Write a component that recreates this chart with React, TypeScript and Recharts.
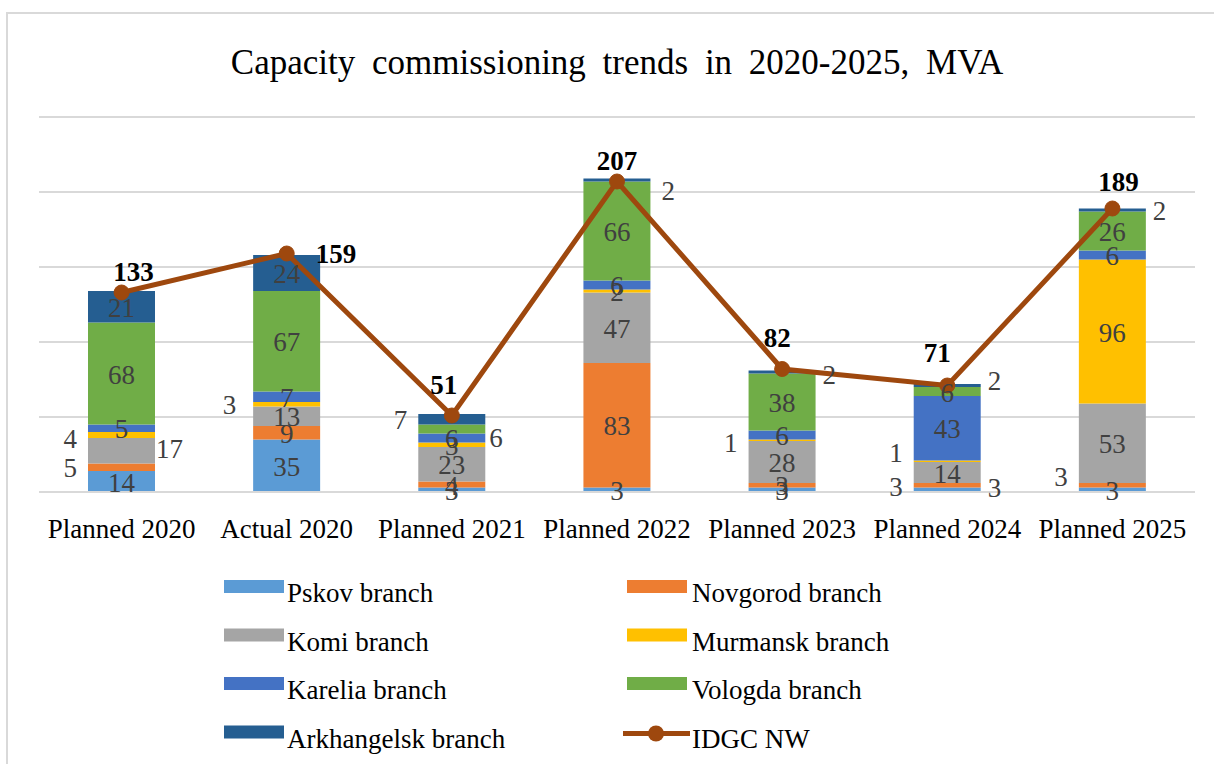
import React from "react"
import {
  Bar,
  CartesianGrid,
  ComposedChart,
  LabelList,
  Legend,
  Line,
  XAxis,
  YAxis,
} from "recharts"

const categories = [
  "Planned 2020",
  "Actual 2020",
  "Planned 2021",
  "Planned 2022",
  "Planned 2023",
  "Planned 2024",
  "Planned 2025",
]

const pskov = [14, 35, 3, 3, 3, 3, 3]
const novgorod = [5, 9, 4, 83, 3, 3, 3]
const komi = [17, 13, 23, 47, 28, 14, 53]
const murmansk = [4, 3, 3, 2, 1, 1, 96]
const karelia = [5, 7, 6, 6, 6, 43, 6]
const vologda = [68, 67, 6, 66, 38, 6, 26]
const arkhangelsk = [21, 24, 7, 2, 2, 2, 2]
const idgcNw = [133, 159, 51, 207, 82, 71, 189]

const yTicks = [0, 50, 100, 150, 200, 250]

const FONT = "'Liberation Serif', 'Times New Roman', serif"
const LINE_COLOR = "#9e480e"

const series = [
  { key: "pskov", name: "Pskov branch", color: "#5b9bd5", values: pskov },
  { key: "novgorod", name: "Novgorod branch", color: "#ed7d31", values: novgorod },
  { key: "komi", name: "Komi branch", color: "#a5a5a5", values: komi },
  { key: "murmansk", name: "Murmansk branch", color: "#ffc000", values: murmansk },
  { key: "karelia", name: "Karelia branch", color: "#4472c4", values: karelia },
  { key: "vologda", name: "Vologda branch", color: "#70ad47", values: vologda },
  { key: "arkhangelsk", name: "Arkhangelsk  branch", color: "#255e91", values: arkhangelsk },
]

const data = categories.map((name, i) => {
  const row: Record<string, string | number> = { name, idgc: idgcNw[i] }
  series.forEach((s) => {
    row[s.key] = s.values[i]
  })
  return row
})

// labels that were dragged out of the thin segments
type Place = { side: "L" | "R"; dx?: number; dy?: number }
const outside: Record<string, Record<number, Place>> = {
  pskov: { 5: { side: "L", dy: -4 } },
  novgorod: { 0: { side: "L" }, 5: { side: "R", dy: 2 }, 6: { side: "L", dy: -9 } },
  komi: { 0: { side: "R", dx: -6, dy: -3 } },
  murmansk: { 0: { side: "L", dy: 3 }, 1: { side: "L", dx: -6 }, 4: { side: "L", dy: 2 }, 5: { side: "L", dy: -9 } },
  vologda: { 2: { side: "R", dx: -3, dy: 8 } },
  arkhangelsk: {
    2: { side: "L" },
    3: { side: "R", dx: 4, dy: 10 },
    4: { side: "R", dy: 2 },
    5: { side: "R", dy: -6 },
    6: { side: "R" },
  },
}

// total labels above the line points
const totalPos = [
  { dx: 12, dy: -12, anchor: "middle" },
  { dx: 29, dy: 9, anchor: "start" },
  { dx: -8, dy: -22, anchor: "middle" },
  { dx: 0, dy: -12, anchor: "middle" },
  { dx: -5, dy: -22, anchor: "middle" },
  { dx: -10, dy: -24, anchor: "middle" },
  { dx: 6, dy: -18, anchor: "middle" },
]

const segmentLabel = (key: string) => (p: any) => {
  const vb = p.viewBox && p.viewBox.width != null ? p.viewBox : p
  const x = Number(vb.x)
  const y = Number(vb.y)
  const w = Number(vb.width)
  const h = Number(vb.height)
  const place = outside[key]?.[p.index]
  const cy = y + h / 2 + 10
  if (place) {
    const tx = place.side === "L" ? x - 11 + (place.dx ?? 0) : x + w + 7 + (place.dx ?? 0)
    return (
      <text
        x={tx}
        y={cy + (place.dy ?? 0)}
        textAnchor={place.side === "L" ? "end" : "start"}
        fontFamily={FONT}
        fontSize={27}
        fill="#404040"
      >
        {p.value}
      </text>
    )
  }
  return (
    <text x={x + w / 2} y={cy} textAnchor="middle" fontFamily={FONT} fontSize={27} fill="#404040">
      {p.value}
    </text>
  )
}

const totalLabel = (p: any) => {
  const pos = totalPos[p.index]
  return (
    <text
      x={Number(p.x) + pos.dx}
      y={Number(p.y) + pos.dy}
      textAnchor={pos.anchor as any}
      fontFamily={FONT}
      fontSize={27}
      fontWeight="bold"
      fill="#000"
    >
      {p.value}
    </text>
  )
}

const XTick = (p: any) => (
  <text x={p.x} y={p.y} dy={46} textAnchor="middle" fontFamily={FONT} fontSize={27} fill="#000">
    {p.payload.value}
  </text>
)

const legendRows = [
  ["pskov", "novgorod"],
  ["komi", "murmansk"],
  ["karelia", "vologda"],
  ["arkhangelsk", "idgc"],
]

const LegendBox = () => (
  <svg width={1214} height={764} style={{ position: "absolute", left: 0, top: 0 }}>
    {legendRows.map((row, r) =>
      row.map((key, c) => {
        const top = 580 + r * 48.5
        const sx = c === 0 ? 224 : 627
        const tx = c === 0 ? 287 : 692
        const s = series.find((d) => d.key === key)
        return (
          <g key={key}>
            {s ? (
              <rect x={sx} y={top} width={60} height={13} fill={s.color} />
            ) : (
              <g>
                <line x1={623} x2={690} y1={top + 8} y2={top + 8} stroke={LINE_COLOR} strokeWidth={5} />
                <circle cx={656} cy={top + 8} r={8} fill={LINE_COLOR} />
              </g>
            )}
            <text x={tx} y={top + 22} fontFamily={FONT} fontSize={27} fill="#000">
              {s ? s.name : "IDGC NW"}
            </text>
          </g>
        )
      })
    )}
  </svg>
)

export default function App() {
  return (
    <div style={{ position: "absolute", left: 0, top: 0, width: 1214, height: 764, background: "#fff" }}>
      <svg width={1214} height={764} style={{ position: "absolute", left: 0, top: 0 }}>
        <rect x={7} y={13} width={1240} height={800} fill="none" stroke="#d9d9d9" strokeWidth={2} />
        <text x={617} y={74} textAnchor="middle" fontFamily={FONT} fontSize={35} wordSpacing={8} fill="#000">
          Capacity commissioning trends in 2020-2025, MVA
        </text>
      </svg>
      <div style={{ position: "absolute", left: 0, top: 0 }}>
        <ComposedChart
          width={1214}
          height={764}
          data={data}
          margin={{ top: 117, right: 19, bottom: 212, left: 39 }}
        >
          <CartesianGrid vertical={false} stroke="#d9d9d9" strokeWidth={2} />
          <XAxis
            dataKey="name"
            height={60}
            interval={0}
            tickLine={false}
            tickSize={0}
            tickMargin={0}
            axisLine={{ stroke: "#d9d9d9", strokeWidth: 2 }}
            tick={XTick}
          />
          <YAxis hide domain={[0, 250]} ticks={yTicks} />
          {series.map((s) => (
            <Bar
              key={s.key}
              dataKey={s.key}
              name={s.name}
              stackId="a"
              fill={s.color}
              barSize={67}
              isAnimationActive={false}
            >
              <LabelList dataKey={s.key} content={segmentLabel(s.key)} />
            </Bar>
          ))}
          <Line
            type="linear"
            dataKey="idgc"
            name="IDGC NW"
            stroke={LINE_COLOR}
            strokeWidth={5}
            dot={{ r: 7.5, fill: LINE_COLOR, stroke: LINE_COLOR, strokeWidth: 1 }}
            activeDot={false}
            isAnimationActive={false}
          >
            <LabelList dataKey="idgc" content={totalLabel} />
          </Line>
          <Legend
            layout="horizontal"
            verticalAlign="middle"
            align="center"
            wrapperStyle={{ left: 0, top: 0, width: 1214, height: 0 }}
            content={LegendBox}
          />
        </ComposedChart>
      </div>
    </div>
  )
}
